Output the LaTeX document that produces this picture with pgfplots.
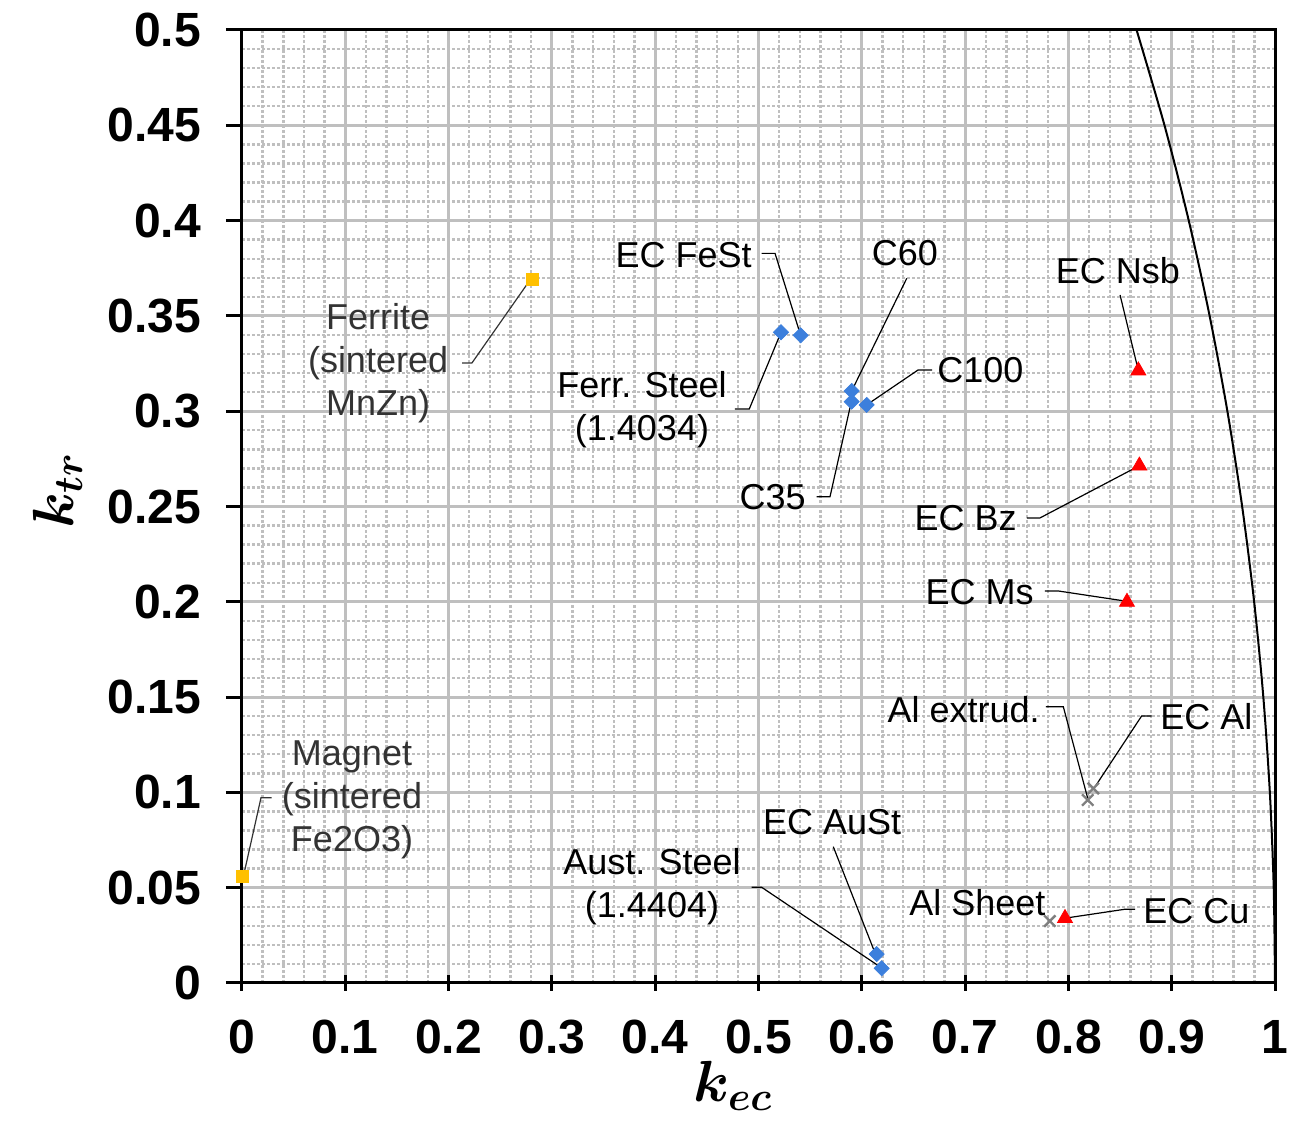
\RequirePackage{fix-cm}
\documentclass[border=0pt]{standalone}
\usepackage{amsmath}
\usepackage{bm}
\usepackage{fontspec}
\setmainfont{Liberation Sans}
\usepackage{pgfplots}
\pgfplotsset{compat=1.18}
\definecolor{gridgray}{HTML}{BFBFBF}
\definecolor{myblue}{HTML}{3C7FDC}
\definecolor{myyellow}{HTML}{FFC000}
\definecolor{myred}{HTML}{FF0000}
\definecolor{mygray}{HTML}{7F7F7F}
\definecolor{labgray}{HTML}{333333}
\tikzset{lab/.style={font=\fontsize{18}{21.5}\selectfont, inner sep=0pt, align=center, text=black},
ld/.style={black, line width=0.6pt}}
\begin{document}
\begin{tikzpicture}
\begin{axis}[
 scale only axis, width=516.5pt, height=476.5pt,
 xmin=0, xmax=1, ymin=0, ymax=0.5,
 xtick={0,0.1,0.2,0.3,0.4,0.5,0.6,0.7,0.8,0.9,1},
 xticklabels={0,0.1,0.2,0.3,0.4,0.5,0.6,0.7,0.8,0.9,1},
 ytick={0,0.05,0.1,0.15,0.2,0.25,0.3,0.35,0.4,0.45,0.5},
 yticklabels={0,0.05,0.1,0.15,0.2,0.25,0.3,0.35,0.4,0.45,0.5},
 minor x tick num=4, minor y tick num=4,
 grid=both,
 major grid style={gridgray, line width=1.5pt},
 minor grid style={gridgray, line width=1.2pt, dash pattern=on 1.5pt off 1pt},
 axis line style={black, line width=1.5pt},
 major tick length=8pt, minor tick length=0pt,
 xtick align=center, ytick align=outside,
 tick pos=left,
 tick style={black, line width=1.5pt},
 ticklabel style={font=\bfseries\fontsize{24}{28}\selectfont},
 yticklabel style={xshift=-9pt},
 xticklabel style={yshift=-11pt},
 xlabel={\fontsize{29}{34}\selectfont$\bm{k_{ec}}$},
 ylabel={\fontsize{29}{34}\selectfont$\bm{k_{tr}}$},
 xlabel style={at={(axis description cs:0.475,-0.108)}, anchor=center},
 ylabel style={at={(axis description cs:-0.178,0.517)}, anchor=center},
]
% boundary curve
\addplot[black, line width=1pt, smooth] coordinates {
(0.8660,0.50) (0.8930,0.45) (0.9165,0.40) (0.9367,0.35) (0.9539,0.30)
(0.9682,0.25) (0.9798,0.20) (0.9887,0.15) (0.9950,0.10) (0.99875,0.05) (1.0,0.0)};
% leaders
\draw[ld, labgray] (axis cs:0.2130,0.3253) -- (axis cs:0.2226,0.3253) -- (axis cs:0.2788,0.3688);
\draw[ld, labgray] (axis cs:0.0287,0.0972) -- (axis cs:0.0184,0.0972) -- (axis cs:0.0013,0.0558);
\draw[ld] (axis cs:0.5031,0.3828) -- (axis cs:0.5160,0.3828) -- (axis cs:0.5408,0.3398);
\draw[ld] (axis cs:0.4772,0.3012) -- (axis cs:0.4911,0.3012) -- (axis cs:0.5218,0.3414);
\draw[ld] (axis cs:0.6435,0.3697) -- (axis cs:0.5902,0.3106);
\draw[ld] (axis cs:0.5563,0.2551) -- (axis cs:0.5692,0.2551) -- (axis cs:0.5895,0.3041);
\draw[ld] (axis cs:0.6680,0.3216) -- (axis cs:0.6544,0.3216) -- (axis cs:0.6047,0.3033);
\draw[ld] (axis cs:0.8500,0.3610) -- (axis cs:0.8677,0.3213);
\draw[ld] (axis cs:0.7599,0.2440) -- (axis cs:0.7725,0.2440) -- (axis cs:0.8687,0.2714);
\draw[ld] (axis cs:0.7773,0.2057) -- (axis cs:0.7899,0.2057) -- (axis cs:0.8548,0.2004);
\draw[ld] (axis cs:0.7783,0.1449) -- (axis cs:0.7951,0.1449) -- (axis cs:0.8187,0.0969);
\draw[ld] (axis cs:0.8806,0.1401) -- (axis cs:0.8709,0.1401) -- (axis cs:0.8258,0.1030);
\draw[ld] (axis cs:0.8645,0.0387) -- (axis cs:0.8548,0.0387) -- (axis cs:0.7967,0.0340);
\draw[ld] (axis cs:0.5724,0.0715) -- (axis cs:0.6129,0.0156);
\draw[ld] (axis cs:0.4934,0.0502) -- (axis cs:0.5031,0.0502) -- (axis cs:0.6176,0.0085);
% markers
\addplot[only marks, mark=square*, mark size=3pt, color=myyellow] coordinates {(0.281,0.3694) (0.0,0.0558)};
\addplot[only marks, mark=square*, mark size=2.65pt, mark options={rotate=45}, color=myblue] coordinates {
(0.5408,0.3398) (0.5218,0.3414) (0.5902,0.3106) (0.5902,0.3050) (0.6047,0.3033) (0.6144,0.0152) (0.6192,0.0077)};
\addplot[only marks, mark=triangle*, mark size=4.3pt, color=myred] coordinates {
(0.8677,0.3213) (0.8687,0.2714) (0.8567,0.1999) (0.7967,0.0340)};
\addplot[only marks, mark=x, mark size=4pt, line width=1.2pt, color=mygray] coordinates {
(0.8241,0.1021) (0.8187,0.0960) (0.7820,0.0325)};
% labels
\node[lab, text=labgray] at (axis cs:0.1317,0.3253) {Ferrite\\(sintered\\MnZn)};
\node[lab, text=labgray] at (axis cs:0.1065,0.0960) {Magnet\\(sintered\\Fe2O3)};
\node[lab, anchor=east] at (axis cs:0.4937,0.3820) {EC FeSt};
\node[lab] at (axis cs:0.3872,0.3006) {Ferr. Steel\\(1.4034)};
\node[lab] at (axis cs:0.6418,0.3830) {C60};
\node[lab, anchor=east] at (axis cs:0.5460,0.2550) {C35};
\node[lab, anchor=west] at (axis cs:0.6728,0.3216) {C100};
\node[lab] at (axis cs:0.8480,0.3736) {EC Nsb};
\node[lab, anchor=east] at (axis cs:0.7502,0.2440) {EC Bz};
\node[lab, anchor=east] at (axis cs:0.7667,0.2051) {EC Ms};
\node[lab, anchor=east] at (axis cs:0.7725,0.1432) {Al extrud.};
\node[lab, anchor=west] at (axis cs:0.8887,0.1396) {EC Al};
\node[lab, anchor=west] at (axis cs:0.8722,0.0378) {EC Cu};
\node[lab] at (axis cs:0.7120,0.0420) {Al Sheet};
\node[lab] at (axis cs:0.5712,0.0845) {EC AuSt};
\node[lab] at (axis cs:0.3969,0.0504) {Aust. Steel\\(1.4404)};
\end{axis}
\pgfresetboundingbox
\path ([xshift=-121pt,yshift=-69pt]current axis.south west) rectangle ([xshift=14.5pt,yshift=15pt]current axis.north east);
\end{tikzpicture}
\end{document}
